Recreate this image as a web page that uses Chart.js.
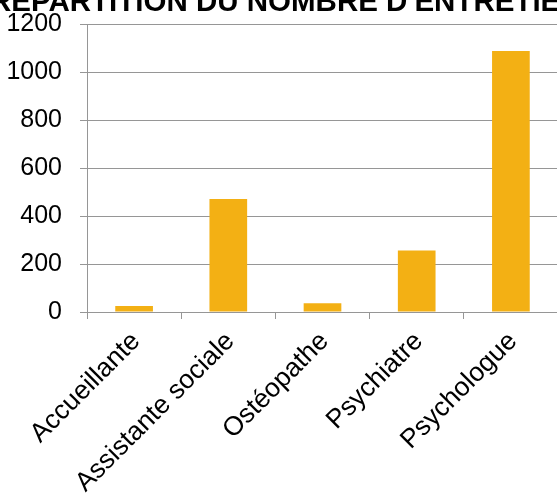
<!DOCTYPE html>
<html lang="fr">
<head>
<meta charset="utf-8">
<title>Répartition du nombre d'entretiens</title>
<script src="https://cdn.jsdelivr.net/npm/chart.js@4.4.1/dist/chart.umd.min.js"></script>
<style>
  html, body { margin: 0; padding: 0; background: #ffffff; overflow: hidden; }
  body { width: 557px; height: 494px; position: relative; }
  #wrap { position: absolute; left: -10px; top: -15px; width: 648px; height: 515px; }
</style>
</head>
<body>
<div id="wrap"><canvas id="chart"></canvas></div>
<script>
// Intervenants et nombre d'entretiens réalisés
const categories = ['Accueillante', 'Assistante sociale', 'Ostéopathe', 'Psychiatre', 'Psychologue'];
const entretiens = [25, 471, 36, 257, 1089];
const yTicks = [0, 200, 400, 600, 800, 1000, 1200];
const titre = "RÉPARTITION DU NOMBRE D'ENTRETIENS";

const FONT = "'Liberation Sans', Arial, Helvetica, sans-serif";
const GRID = '#969696';

new Chart(document.getElementById('chart'), {
  type: 'bar',
  data: {
    labels: categories,
    datasets: [{
      data: entretiens,
      backgroundColor: '#F3B014',
      borderWidth: 0,
      barPercentage: 0.4,
      categoryPercentage: 1.0
    }]
  },
  options: {
    responsive: true,
    maintainAspectRatio: false,
    animation: false,
    layout: { padding: 0 },
    plugins: {
      legend: { display: false },
      tooltip: { enabled: false },
      title: {
        display: true,
        text: titre,
        align: 'start',
        color: '#000000',
        font: { family: FONT, size: 29.5, weight: 'bold', lineHeight: 1.2 },
        padding: { top: 0, bottom: 4 }
      }
    },
    scales: {
      x: {
        offset: true,
        grid: {
          display: true,
          offset: true,
          drawOnChartArea: false,
          drawTicks: true,
          tickLength: 7,
          color: GRID,
          lineWidth: 1
        },
        border: { display: true, color: GRID, width: 1 },
        ticks: {
          color: '#000000',
          font: { family: FONT, size: 26.5 },
          minRotation: 45,
          maxRotation: 45,
          padding: 7,
          labelOffset: 2,
          autoSkip: false
        },
        afterFit(scale) { scale.height = 188; }
      },
      y: {
        min: 0,
        max: 1200,
        afterBuildTicks(scale) { scale.ticks = yTicks.map(v => ({ value: v })); },
        grid: {
          color: GRID,
          lineWidth: 1,
          drawTicks: true,
          tickLength: 7
        },
        border: { display: true, color: GRID, width: 1 },
        ticks: {
          color: '#000000',
          font: { family: FONT, size: 25 },
          padding: 18,
          callback: (v) => String(v)
        },
        afterFit(scale) { scale.width = 97; }
      },
      // empty margin on the right, beyond the visible frame
      marge: {
        type: 'linear',
        position: 'right',
        display: true,
        grid: { display: false, drawTicks: false },
        border: { display: false },
        ticks: { display: false },
        afterFit(scale) { scale.width = 80; }
      }
    }
  }
});
</script>
</body>
</html>
